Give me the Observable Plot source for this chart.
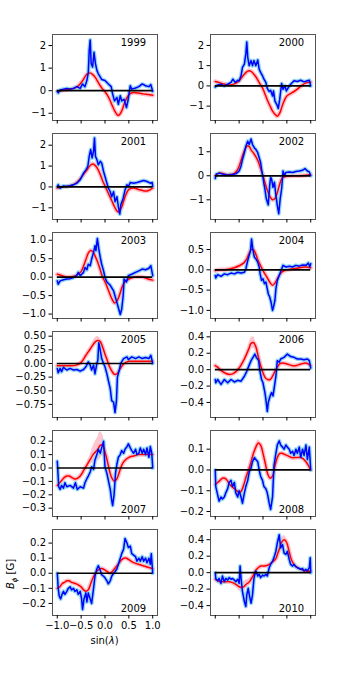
<!DOCTYPE html>
<html>
<head>
<meta charset="utf-8">
<script src="https://cdn.jsdelivr.net/npm/d3@7"></script>
<script src="https://cdn.jsdelivr.net/npm/@observablehq/plot@0.6"></script>
<style>
  html, body { margin: 0; padding: 0; background: #fff; }
  #chart { position: relative; width: 350px; height: 700px; overflow: hidden; font-family: "DejaVu Sans", sans-serif; }
  .lbl { position: absolute; white-space: nowrap; font-size: 10px; color: #000; font-family: "DejaVu Sans", sans-serif; }
</style>
</head>
<body>
<div id="chart"></div>
<script>
// ---------------- data ----------------
const years = [1999, 2000, 2001, 2002, 2003, 2004, 2005, 2006, 2007, 2008, 2009, 2010];
const xTicks = [-1, -0.5, 0, 0.5, 1];

const ticks1999 = [-1, 0, 1, 2];
const ticks2000 = [-1, 0, 1, 2];
const ticks2001 = [-1, 0, 1, 2];
const ticks2002 = [-1, 0, 1];
const ticks2003 = [-1, -0.5, 0, 0.5, 1];
const ticks2004 = [-1, -0.5, 0, 0.5];
const ticks2005 = [-0.75, -0.5, -0.25, 0, 0.25, 0.5];
const ticks2006 = [-0.4, -0.2, 0, 0.2, 0.4];
const ticks2007 = [-0.3, -0.2, -0.1, 0, 0.1, 0.2];
const ticks2008 = [-0.2, -0.1, 0, 0.1];
const ticks2009 = [-0.2, -0.1, 0, 0.1, 0.2];
const ticks2010 = [-0.4, -0.2, 0, 0.2, 0.4];

// observed (blue) [sinλ, Bφ]
const blue1999 = [[-1,-0.03],[-0.98,-0.1],[-0.94,0.03],[-0.87,0.07],[-0.8,0.1],[-0.73,0.07],[-0.66,0.1],[-0.59,0.18],[-0.52,0.1],[-0.47,0.3],[-0.42,0.18],[-0.38,0.45],[-0.35,0.8],[-0.33,1.8],[-0.31,2.25],[-0.29,1.2],[-0.26,1.05],[-0.23,1.7],[-0.2,1.2],[-0.17,0.9],[-0.14,0.75],[-0.07,0.5],[0,0.45],[0.07,0.3],[0.13,0.18],[0.16,-0.15],[0.2,-0.45],[0.25,-0.3],[0.28,-0.6],[0.32,-0.22],[0.35,-0.45],[0.4,-0.38],[0.45,-0.75],[0.48,-0.45],[0.53,0.22],[0.56,0.07],[0.64,0.12],[0.71,0.18],[0.78,0.3],[0.85,0.22],[0.92,0.18],[0.96,0.27],[1,-0.03]];
const blue2000 = [[-1,-0.05],[-0.95,0.05],[-0.88,0.08],[-0.81,0],[-0.74,0.08],[-0.67,0.17],[-0.63,0.33],[-0.58,0.17],[-0.53,0.28],[-0.5,0.25],[-0.46,0.5],[-0.43,0.92],[-0.39,1.08],[-0.36,1.58],[-0.34,2.17],[-0.32,1.42],[-0.29,1.0],[-0.25,1.25],[-0.22,1.0],[-0.19,1.25],[-0.15,1.0],[-0.11,1.28],[-0.08,0.83],[-0.05,0.67],[-0.01,0.5],[0.02,0.33],[0.06,0.17],[0.09,-0.12],[0.13,-0.28],[0.16,-0.22],[0.2,-0.5],[0.22,-0.25],[0.25,-0.75],[0.29,-0.92],[0.32,-1.12],[0.35,-0.67],[0.39,0.12],[0.42,-0.17],[0.46,0],[0.49,-0.25],[0.53,-0.08],[0.58,0.08],[0.65,0.25],[0.72,0.22],[0.79,0.28],[0.86,0.2],[0.93,0.25],[0.97,0.28],[1,0]];
const blue2001 = [[-1,0.02],[-0.98,0.1],[-0.94,-0.06],[-0.87,0.05],[-0.8,0.02],[-0.73,0.06],[-0.66,0.1],[-0.59,0.18],[-0.52,0.34],[-0.45,0.66],[-0.4,0.82],[-0.36,0.98],[-0.33,1.47],[-0.3,1.79],[-0.27,1.39],[-0.24,1.71],[-0.22,2.35],[-0.2,1.47],[-0.17,1.31],[-0.14,1.06],[-0.1,1.23],[-0.07,1.15],[-0.03,0.74],[0,0.5],[0.04,0.18],[0.07,-0.06],[0.11,-0.23],[0.14,-0.47],[0.18,-0.23],[0.21,-0.71],[0.25,-0.47],[0.28,-0.95],[0.31,-1.3],[0.33,-0.87],[0.38,-0.55],[0.42,-0.15],[0.46,0.1],[0.49,0.02],[0.53,0.21],[0.6,0.18],[0.67,0.21],[0.74,0.26],[0.81,0.31],[0.88,0.26],[0.95,0.18],[0.99,0.21],[1,0.02]];
const blue2002 = [[-1,-0.11],[-0.98,0.07],[-0.92,0.11],[-0.85,0.07],[-0.78,0.04],[-0.71,0.03],[-0.64,0.05],[-0.57,0.08],[-0.5,0.2],[-0.46,0.41],[-0.43,0.68],[-0.39,0.96],[-0.36,1.23],[-0.32,1.44],[-0.29,1.3],[-0.25,1.53],[-0.22,1.3],[-0.18,1.16],[-0.15,1.1],[-0.11,0.96],[-0.08,0.75],[-0.05,0.55],[-0.03,0.27],[0,-0.07],[0.02,-0.34],[0.04,-0.55],[0.07,-0.96],[0.11,-1.21],[0.14,-0.41],[0.16,-0.07],[0.18,-0.14],[0.21,-0.48],[0.24,-0.27],[0.27,-0.82],[0.3,-1.23],[0.33,-1.58],[0.36,-0.96],[0.39,-0.55],[0.42,0.2],[0.45,0],[0.48,0.14],[0.55,0.16],[0.62,0.14],[0.69,0.18],[0.76,0.2],[0.83,0.23],[0.88,0.3],[0.93,0.2],[0.97,0.16],[1,0]];
const blue2003 = [[-1,-0.1],[-0.98,-0.19],[-0.94,-0.1],[-0.87,-0.07],[-0.8,-0.05],[-0.73,-0.04],[-0.66,-0.01],[-0.59,0.05],[-0.56,0.13],[-0.52,0.04],[-0.45,0.13],[-0.42,0.26],[-0.38,0.2],[-0.35,0.35],[-0.31,0.31],[-0.28,0.49],[-0.24,0.67],[-0.21,0.85],[-0.19,0.72],[-0.16,1.05],[-0.13,0.76],[-0.1,0.54],[-0.07,0.35],[-0.03,0.17],[0,-0.01],[0.04,-0.13],[0.11,-0.22],[0.18,-0.37],[0.21,-0.51],[0.25,-0.69],[0.28,-0.83],[0.32,-1.01],[0.35,-0.87],[0.38,-0.51],[0.4,-0.05],[0.45,-0.13],[0.49,0.04],[0.56,0.08],[0.64,0.13],[0.71,0.17],[0.78,0.22],[0.85,0.2],[0.92,0.24],[0.96,0.31],[1,0.04]];
const blue2004 = [[-1,-0.14],[-0.99,-0.2],[-0.95,-0.12],[-0.88,-0.16],[-0.81,-0.1],[-0.74,-0.12],[-0.67,-0.08],[-0.6,-0.1],[-0.53,-0.06],[-0.46,-0.08],[-0.39,-0.06],[-0.36,0.02],[-0.32,0.23],[-0.29,0.35],[-0.26,0.48],[-0.24,0.76],[-0.21,0.48],[-0.18,0.31],[-0.15,0.27],[-0.11,0.19],[-0.08,0.07],[-0.06,-0.1],[-0.03,-0.26],[0,-0.22],[0.03,-0.34],[0.06,-0.3],[0.09,-0.47],[0.11,-0.59],[0.14,-0.67],[0.17,-0.8],[0.2,-1.0],[0.22,-0.92],[0.25,-0.75],[0.27,-0.47],[0.3,-0.26],[0.34,-0.14],[0.39,0.02],[0.42,0.11],[0.48,0.07],[0.55,0.09],[0.62,0.07],[0.69,0.11],[0.76,0.09],[0.83,0.12],[0.9,0.11],[0.95,0.17],[0.98,0.07],[1,0.15]];
const blue2005 = [[-1,-0.09],[-0.98,-0.17],[-0.94,-0.09],[-0.91,-0.15],[-0.87,-0.07],[-0.8,-0.12],[-0.73,-0.09],[-0.66,-0.12],[-0.59,-0.11],[-0.52,-0.14],[-0.45,-0.11],[-0.4,-0.06],[-0.35,0.03],[-0.31,-0.03],[-0.28,-0.12],[-0.24,-0.03],[-0.21,-0.19],[-0.17,0],[-0.15,0.06],[-0.13,0.38],[-0.1,0.25],[-0.07,0.09],[-0.03,0],[0,-0.06],[0.04,-0.19],[0.07,-0.31],[0.11,-0.46],[0.14,-0.68],[0.18,-0.71],[0.21,-0.9],[0.24,-0.68],[0.26,-0.25],[0.3,-0.12],[0.33,0],[0.39,0.09],[0.46,0.12],[0.49,0.07],[0.56,0.12],[0.64,0.09],[0.71,0.12],[0.78,0.09],[0.85,0.11],[0.92,0.09],[0.96,0.15],[1,0]];
const blue2006 = [[-1,-0.12],[-0.99,-0.16],[-0.95,-0.12],[-0.88,-0.18],[-0.81,-0.12],[-0.74,-0.16],[-0.67,-0.12],[-0.6,-0.15],[-0.53,-0.13],[-0.46,-0.14],[-0.39,-0.08],[-0.34,-0.02],[-0.3,0.04],[-0.25,0.11],[-0.21,0.15],[-0.17,0.19],[-0.14,0.15],[-0.09,0.11],[-0.07,0],[-0.03,-0.12],[0,-0.16],[0.04,-0.28],[0.06,-0.36],[0.09,-0.51],[0.11,-0.4],[0.15,-0.32],[0.18,-0.28],[0.21,-0.32],[0.24,-0.2],[0.27,-0.08],[0.3,0.11],[0.34,0.09],[0.37,0.13],[0.44,0.15],[0.51,0.19],[0.58,0.16],[0.65,0.15],[0.72,0.13],[0.79,0.13],[0.86,0.12],[0.93,0.13],[0.97,0.11],[1,0.02]];
const blue2007 = [[-1,0.05],[-0.99,-0.01],[-0.97,-0.14],[-0.94,-0.16],[-0.91,-0.13],[-0.87,-0.15],[-0.84,-0.11],[-0.8,-0.14],[-0.73,-0.13],[-0.66,-0.15],[-0.62,-0.11],[-0.58,-0.16],[-0.52,-0.14],[-0.45,-0.15],[-0.42,-0.11],[-0.38,-0.08],[-0.35,-0.06],[-0.31,-0.03],[-0.28,0.01],[-0.24,-0.01],[-0.21,0.06],[-0.17,0.1],[-0.14,0.14],[-0.1,0.11],[-0.07,0.15],[-0.03,0.2],[0,0.01],[0.04,-0.04],[0.07,-0.09],[0.11,-0.16],[0.14,-0.24],[0.16,-0.28],[0.19,-0.2],[0.22,-0.04],[0.25,0.03],[0.28,0.08],[0.32,0.1],[0.35,0.13],[0.39,0.11],[0.42,0.14],[0.46,0.16],[0.49,0.18],[0.53,0.15],[0.56,0.13],[0.6,0.11],[0.64,0.14],[0.67,0.1],[0.71,0.11],[0.74,0.15],[0.78,0.11],[0.81,0.14],[0.85,0.1],[0.88,0.15],[0.92,0.08],[0.95,0.16],[0.98,0.11],[1,0]];
const blue2008 = [[-1,0],[-0.99,-0.08],[-0.95,-0.12],[-0.92,-0.15],[-0.88,-0.13],[-0.85,-0.14],[-0.81,-0.13],[-0.78,-0.11],[-0.74,-0.09],[-0.71,-0.06],[-0.67,-0.05],[-0.64,-0.08],[-0.6,-0.06],[-0.57,-0.11],[-0.53,-0.13],[-0.5,-0.1],[-0.46,-0.13],[-0.43,-0.16],[-0.39,-0.11],[-0.36,-0.08],[-0.32,-0.05],[-0.29,-0.01],[-0.25,0.01],[-0.22,0.04],[-0.18,0.06],[-0.15,0.05],[-0.11,0.04],[-0.08,0],[-0.05,-0.03],[-0.01,-0.05],[0.02,-0.08],[0.06,-0.09],[0.09,-0.11],[0.13,-0.16],[0.16,-0.19],[0.2,-0.13],[0.23,0.02],[0.27,0.08],[0.3,0.12],[0.34,0.14],[0.37,0.12],[0.41,0.11],[0.44,0.1],[0.48,0.12],[0.51,0.11],[0.55,0.1],[0.58,0.08],[0.62,0.09],[0.65,0.07],[0.69,0.1],[0.72,0.08],[0.76,0.11],[0.79,0.06],[0.83,0.1],[0.86,0.07],[0.9,0.12],[0.93,0.05],[0.97,0.11],[1,0]];
const blue2009 = [[-1,0],[-0.98,-0.1],[-0.96,-0.15],[-0.93,-0.17],[-0.9,-0.14],[-0.87,-0.12],[-0.84,-0.14],[-0.8,-0.12],[-0.77,-0.1],[-0.73,-0.09],[-0.7,-0.11],[-0.66,-0.1],[-0.63,-0.12],[-0.59,-0.11],[-0.56,-0.14],[-0.52,-0.12],[-0.49,-0.17],[-0.47,-0.24],[-0.44,-0.17],[-0.4,-0.13],[-0.38,-0.19],[-0.35,-0.13],[-0.31,-0.17],[-0.28,-0.2],[-0.24,-0.1],[-0.21,-0.02],[-0.17,0.03],[-0.14,0.05],[-0.1,0.02],[-0.07,-0.01],[-0.03,-0.02],[0,-0.03],[0.04,-0.05],[0.07,-0.07],[0.11,-0.05],[0.14,-0.02],[0.18,0],[0.21,0.01],[0.25,0.03],[0.28,0.06],[0.32,0.1],[0.35,0.13],[0.39,0.16],[0.42,0.23],[0.46,0.2],[0.49,0.17],[0.53,0.18],[0.56,0.13],[0.6,0.12],[0.64,0.11],[0.67,0.08],[0.71,0.1],[0.74,0.08],[0.78,0.11],[0.81,0.08],[0.85,0.1],[0.88,0.07],[0.92,0.1],[0.95,0.06],[0.97,0.13],[1,0]];
const blue2010 = [[-1,0],[-0.99,-0.07],[-0.95,-0.1],[-0.92,-0.07],[-0.88,-0.13],[-0.85,-0.04],[-0.81,-0.11],[-0.78,-0.07],[-0.74,-0.09],[-0.71,-0.06],[-0.67,-0.08],[-0.64,-0.07],[-0.6,-0.09],[-0.57,-0.11],[-0.53,-0.08],[-0.5,-0.13],[-0.48,0.08],[-0.46,-0.07],[-0.43,-0.23],[-0.39,-0.35],[-0.36,-0.41],[-0.34,-0.27],[-0.31,-0.19],[-0.28,-0.29],[-0.25,-0.37],[-0.22,-0.27],[-0.19,-0.07],[-0.15,0.02],[-0.11,-0.04],[-0.08,-0.02],[-0.05,-0.06],[-0.01,-0.03],[0.02,-0.04],[0.06,-0.02],[0.09,-0.04],[0.13,0.06],[0.16,0.1],[0.2,0.14],[0.23,0.18],[0.27,0.26],[0.3,0.36],[0.34,0.46],[0.37,0.3],[0.41,0.34],[0.44,0.24],[0.48,0.22],[0.51,0.26],[0.55,0.16],[0.58,0.1],[0.62,0.08],[0.65,0.1],[0.69,0.07],[0.72,0.06],[0.76,0.05],[0.79,0.04],[0.83,0.05],[0.86,0.02],[0.9,0.04],[0.93,0.02],[0.97,0.06],[0.99,0.18],[1,0]];

// model (red) [sinλ, Bφ, band half-width]
const red1999 = [[-1,-0.02],[-0.8,0.05],[-0.6,0.15],[-0.5,0.35],[-0.45,0.5],[-0.4,0.68],[-0.35,0.78,0.04],[-0.3,0.78,0.04],[-0.25,0.7],[-0.2,0.58],[-0.15,0.4],[-0.1,0.22],[-0.05,0.07],[0,-0.05],[0.05,-0.2],[0.1,-0.4],[0.15,-0.65],[0.2,-0.88],[0.25,-1.05,0.06],[0.28,-1.1,0.07],[0.32,-1.02,0.06],[0.36,-0.85],[0.4,-0.6],[0.45,-0.35],[0.5,-0.18],[0.55,-0.1],[0.6,-0.08],[0.7,-0.1],[0.8,-0.14],[0.9,-0.17],[1,-0.2]];
const red2000 = [[-1,0.22],[-0.9,0.15],[-0.8,0.08],[-0.7,0.05],[-0.6,0.1],[-0.5,0.25],[-0.45,0.4],[-0.4,0.55],[-0.35,0.68,0.06],[-0.3,0.75,0.08],[-0.25,0.72,0.08],[-0.2,0.6,0.06],[-0.15,0.45],[-0.1,0.25],[-0.05,0.05],[0,-0.15],[0.05,-0.45],[0.1,-0.75],[0.15,-1.0],[0.2,-1.25,0.08],[0.25,-1.4,0.1],[0.3,-1.5,0.1],[0.35,-1.35,0.08],[0.4,-1.0],[0.45,-0.7],[0.5,-0.5],[0.6,-0.35],[0.7,-0.2],[0.8,0],[0.9,0.15],[1,0.18]];
const red2001 = [[-1,-0.05],[-0.9,0],[-0.8,0.03],[-0.7,0.08],[-0.6,0.2],[-0.5,0.45],[-0.4,0.75],[-0.3,1.05,0.08],[-0.25,1.1,0.1],[-0.2,1.02,0.08],[-0.15,0.85],[-0.1,0.6],[-0.05,0.3],[0,0.05],[0.05,-0.2],[0.1,-0.45],[0.15,-0.7],[0.2,-0.95],[0.25,-1.15,0.08],[0.28,-1.2,0.08],[0.32,-1.1,0.06],[0.36,-0.9],[0.4,-0.6],[0.45,-0.3],[0.5,-0.12],[0.6,-0.05],[0.7,-0.12],[0.8,-0.18],[0.9,-0.18],[1,-0.05]];
const red2002 = [[-1,0],[-0.95,0.08],[-0.9,0.12],[-0.85,0.1],[-0.8,0.06],[-0.7,0.05],[-0.6,0.1],[-0.55,0.2],[-0.5,0.4],[-0.45,0.7],[-0.4,1.0,0.08],[-0.35,1.2,0.12],[-0.32,1.25,0.14],[-0.28,1.2,0.14],[-0.25,1.08,0.12],[-0.2,0.95,0.08],[-0.15,0.8],[-0.1,0.6],[-0.05,0.3],[0,0],[0.05,-0.35],[0.1,-0.65],[0.15,-0.88,0.06],[0.2,-1.0,0.08],[0.25,-0.95,0.06],[0.3,-0.7],[0.35,-0.35],[0.4,-0.1],[0.5,-0.02],[0.7,0],[0.9,0.02],[1,0.05]];
const red2003 = [[-1,0.08],[-0.9,0.04],[-0.8,0],[-0.7,0.01],[-0.6,0.05],[-0.5,0.15],[-0.45,0.3],[-0.4,0.48],[-0.35,0.65,0.04],[-0.3,0.72,0.05],[-0.25,0.68,0.04],[-0.2,0.55],[-0.15,0.4],[-0.1,0.2],[-0.05,0],[0,-0.12],[0.05,-0.28],[0.1,-0.45],[0.15,-0.6],[0.2,-0.7,0.04],[0.25,-0.65],[0.3,-0.5],[0.35,-0.3],[0.4,-0.15],[0.5,-0.05],[0.6,0],[0.7,0.01],[0.8,0],[0.9,-0.05],[1,-0.08]];
const red2004 = [[-1,-0.02],[-0.9,0],[-0.8,0],[-0.7,0.02],[-0.6,0.05],[-0.5,0.1],[-0.4,0.17,0.03],[-0.35,0.25,0.06],[-0.3,0.38,0.1],[-0.25,0.5,0.12],[-0.2,0.5,0.1],[-0.15,0.38,0.06],[-0.1,0.22],[-0.05,0.1],[0,-0.02],[0.05,-0.12],[0.1,-0.22],[0.15,-0.32],[0.2,-0.38],[0.25,-0.33],[0.3,-0.22],[0.35,-0.12],[0.4,-0.05],[0.5,0],[0.6,0.02],[0.7,0.04],[0.8,0.06],[0.9,0.07],[1,0.05]];
const red2005 = [[-1,-0.04],[-0.8,-0.04],[-0.6,-0.03],[-0.5,0.02],[-0.4,0.15],[-0.3,0.28,0.04],[-0.2,0.4,0.07],[-0.15,0.42,0.08],[-0.1,0.4,0.06],[-0.05,0.3,0.03],[0,0.17],[0.05,0.05],[0.1,-0.07],[0.15,-0.15,0.03],[0.2,-0.2,0.04],[0.25,-0.19,0.03],[0.3,-0.12],[0.4,0],[0.5,0.04],[0.6,0.04],[0.8,0.04],[1,0.04]];
const red2006 = [[-1,0.05],[-0.95,0.03],[-0.9,0],[-0.8,-0.04],[-0.7,-0.06],[-0.6,-0.04],[-0.5,0.02],[-0.4,0.12,0.02],[-0.3,0.25,0.05],[-0.25,0.32,0.07],[-0.2,0.33,0.07],[-0.15,0.28,0.05],[-0.1,0.16,0.02],[-0.05,0.05],[0,-0.04],[0.05,-0.1],[0.1,-0.12],[0.15,-0.12],[0.2,-0.08],[0.25,-0.02],[0.3,0.03],[0.35,0.07],[0.4,0.08],[0.5,0.07],[0.6,0.05],[0.7,0.05],[0.8,0.07],[0.9,0.08],[1,0.05]];
const red2007 = [[-1,-0.13],[-0.95,-0.11],[-0.9,-0.09],[-0.85,-0.07],[-0.8,-0.06],[-0.75,-0.06],[-0.7,-0.07],[-0.65,-0.08],[-0.6,-0.08],[-0.55,-0.07],[-0.5,-0.05],[-0.45,-0.02],[-0.4,0.01],[-0.35,0.04,0.02],[-0.3,0.07,0.04],[-0.25,0.1,0.06],[-0.2,0.12,0.08],[-0.15,0.14,0.09],[-0.1,0.17,0.1],[-0.05,0.17,0.08],[0,0.12,0.04],[0.05,0.05],[0.1,-0.03],[0.15,-0.08],[0.2,-0.1],[0.25,-0.08],[0.3,-0.03],[0.35,0.02],[0.4,0.05],[0.5,0.08],[0.6,0.09],[0.7,0.1],[0.8,0.1],[0.9,0.1],[1,0.1]];
const red2008 = [[-1,-0.07],[-0.95,-0.06],[-0.9,-0.05],[-0.85,-0.04],[-0.8,-0.04],[-0.75,-0.05],[-0.7,-0.07],[-0.65,-0.08],[-0.6,-0.09],[-0.55,-0.1],[-0.5,-0.11],[-0.45,-0.1],[-0.4,-0.07],[-0.35,-0.03],[-0.3,0],[-0.25,0.04],[-0.2,0.08],[-0.15,0.11,0.01],[-0.1,0.13,0.015],[-0.05,0.12,0.01],[0,0.08],[0.05,0.03],[0.1,-0.02],[0.15,-0.04],[0.2,-0.03],[0.25,0.02],[0.3,0.06],[0.35,0.08],[0.4,0.08],[0.5,0.07],[0.6,0.06],[0.7,0.06],[0.8,0.06],[0.9,0.04],[1,0]];
const red2009 = [[-1,-0.1],[-0.95,-0.09],[-0.9,-0.07],[-0.85,-0.06],[-0.8,-0.05],[-0.75,-0.05],[-0.7,-0.06],[-0.6,-0.07],[-0.5,-0.09],[-0.45,-0.11],[-0.4,-0.12],[-0.35,-0.11],[-0.3,-0.07],[-0.25,-0.03],[-0.2,0],[-0.15,0.02],[-0.1,0.03],[-0.05,0.03],[0,0.02],[0.05,0.01],[0.1,0],[0.15,0.01],[0.2,0.03],[0.25,0.05],[0.3,0.07],[0.35,0.09],[0.4,0.1],[0.45,0.1],[0.5,0.09],[0.6,0.07],[0.7,0.06],[0.8,0.05],[0.9,0.04],[1,0.03]];
const red2010 = [[-1,-0.08],[-0.95,-0.1],[-0.9,-0.11],[-0.8,-0.11],[-0.7,-0.11],[-0.6,-0.13,0.02],[-0.5,-0.17,0.05],[-0.45,-0.18,0.06],[-0.4,-0.17,0.06],[-0.35,-0.14,0.05],[-0.3,-0.12,0.04],[-0.25,-0.08,0.03],[-0.2,-0.03],[-0.15,0.03],[-0.1,0.06],[-0.05,0.08],[0,0.08],[0.1,0.09],[0.2,0.13],[0.27,0.17],[0.3,0.22],[0.35,0.3,0.04],[0.4,0.38,0.05],[0.45,0.4,0.05],[0.5,0.36,0.04],[0.55,0.25],[0.6,0.15],[0.65,0.1],[0.7,0.07],[0.8,0.04],[0.9,0.02],[1,0.02]];

// ---------------- layout ----------------
const blues = [blue1999, blue2000, blue2001, blue2002, blue2003, blue2004, blue2005, blue2006, blue2007, blue2008, blue2009, blue2010];
const reds = [red1999, red2000, red2001, red2002, red2003, red2004, red2005, red2006, red2007, red2008, red2009, red2010];
const tickSets = [ticks1999, ticks2000, ticks2001, ticks2002, ticks2003, ticks2004, ticks2005, ticks2006, ticks2007, ticks2008, ticks2009, ticks2010];
const yDomains = [[-1.32, 2.49], [-1.71, 2.54], [-1.56, 2.56], [-1.82, 1.76], [-1.12, 1.21], [-1.2, 0.92],
                  [-0.99, 0.586], [-0.583, 0.465], [-0.362, 0.28], [-0.224, 0.19], [-0.28, 0.29], [-0.52, 0.524]];
const tickFmts = [".0f", ".0f", ".0f", ".0f", ".1f", ".1f", ".2f", ".1f", ".1f", ".1f", ".1f", ".1f"];

const chart = document.getElementById("chart");
const frameH = 86;
const font = "DejaVu Sans";
const fs = 10;

years.forEach((year, i) => {
  const col = i % 2, row = Math.floor(i / 2);
  const frameTop = 34 + row * 99;
  const mL = col === 0 ? 52 : 35;
  const mR = col === 0 ? 18 : 35;
  const mT = 6;
  const showX = year === 2009;
  const mB = showX ? 22 : 8;
  const labelBottom = row >= 4;
  const fmt = d3.format(tickFmts[i]);
  const px = d => d[0], py = d => d[1];
  const svg = Plot.plot({
    width: 175,
    height: frameH + mT + mB,
    marginLeft: mL, marginRight: mR, marginTop: mT, marginBottom: mB,
    style: { fontFamily: font, fontSize: fs + "px", color: "#000", background: "transparent", overflow: "visible" },
    x: { domain: [-1.1, 1.1] },
    y: { domain: yDomains[i] },
    marks: [
      Plot.areaY(reds[i], { x: px, y1: d => d[1] - (d[2] ?? 0), y2: d => d[1] + (d[2] ?? 0), fill: "#ffc0cb", fillOpacity: 0.9, curve: "catmull-rom" }),
      Plot.line(reds[i], { x: px, y: py, stroke: "#ffc0cb", strokeWidth: 4.5, curve: "catmull-rom" }),
      Plot.line(blues[i], { x: px, y: py, stroke: "#92d6f2", strokeWidth: 4 }),
      Plot.line(reds[i], { x: px, y: py, stroke: "#ff0000", strokeWidth: 1.5, curve: "catmull-rom" }),
      Plot.line(blues[i], { x: px, y: py, stroke: "#0000ff", strokeWidth: 1.5 }),
      Plot.ruleY([0], { x1: xTicks[0], x2: xTicks[xTicks.length - 1], stroke: "#000", strokeWidth: 1.7 }),
      Plot.frame({ stroke: "#555", strokeWidth: 1 }),
      Plot.axisY({ ticks: tickSets[i], tickSize: 3.5, tickPadding: 3, tickFormat: fmt, label: null, fontSize: fs }),
      Plot.axisX({ ticks: xTicks, tickSize: 3.5, tickPadding: 3, tickFormat: showX ? d3.format(".1f") : () => "", label: null, fontSize: fs }),
      Plot.text([String(year)], {
        text: d => d,
        frameAnchor: labelBottom ? "bottom-left" : "top-left",
        dx: 0.65 * 105,
        dy: labelBottom ? -7 : 8.6,
        textAnchor: "start",
        lineAnchor: "middle",
        fontSize: fs
      })
    ]
  });
  svg.style.position = "absolute";
  svg.style.left = (col * 175) + "px";
  svg.style.top = (frameTop - mT) + "px";
  chart.appendChild(svg);
});

// axis titles (on the 2009 panel)
const yl = document.createElement("div");
yl.className = "lbl";
yl.innerHTML = "<i>B</i><sub style='font-size:7px'><i>ϕ</i></sub> [G]";
yl.style.left = "12px";
yl.style.top = "574px";
yl.style.transform = "translate(-50%,-50%) rotate(-90deg)";
chart.appendChild(yl);

const xl = document.createElement("div");
xl.className = "lbl";
xl.innerHTML = "sin(<i>λ</i>)";
xl.style.left = "104.5px";
xl.style.top = "640px";
xl.style.transform = "translate(-50%,-50%)";
chart.appendChild(xl);
</script>
</body>
</html>
